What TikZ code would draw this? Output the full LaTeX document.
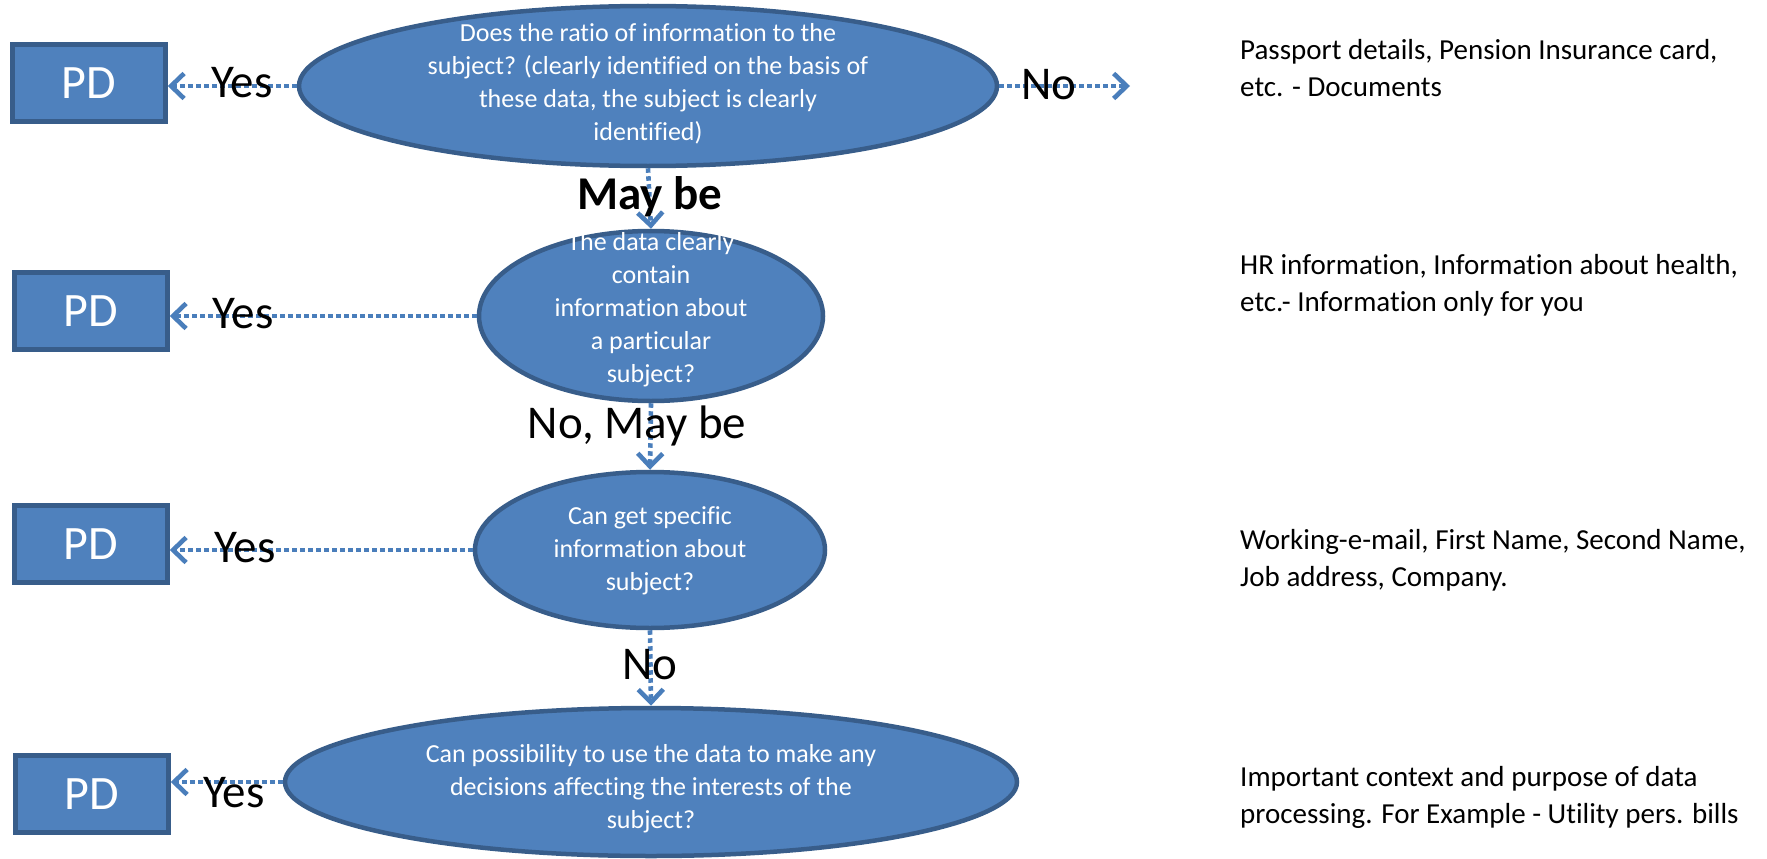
\documentclass[tikz,border=0pt]{standalone}
\usepackage{fontspec}
\setmainfont{Carlito}[Ligatures=NoCommon]
\usetikzlibrary{arrows.meta,shapes.geometric}
\definecolor{nodefill}{HTML}{4F81BD}
\definecolor{nodeline}{HTML}{385D8A}
\definecolor{flow}{HTML}{4A7EBB}
\begin{document}
\begin{tikzpicture}[x=1pt,y=-1pt,
  pdbox/.style={draw=nodeline,fill=nodefill,line width=4.5pt,minimum width=153pt,
    minimum height=77pt,inner sep=0pt,text=white,font=\fontsize{48}{52}\selectfont},
  question/.style={ellipse,draw=nodeline,fill=nodefill,line width=4.5pt,inner sep=0pt},
  qtext/.style={text=white,align=center,inner sep=0pt,font=\fontsize{26}{33}\selectfont},
  answer/.style={inner sep=0pt,font=\fontsize{47}{52}\selectfont},
  note/.style={align=left,anchor=west,inner sep=0pt,font=\fontsize{29}{37}\selectfont},
  flowline/.style={draw=flow,line width=4.6pt,dash pattern=on 4.5pt off 3.5pt,
    -{Straight Barb[length=13pt,width=25pt]}}
]
\useasboundingbox (0,0) rectangle (1767,859);

% question ellipses
\node[question,minimum width=698pt,minimum height=160pt] (e1) at (648,86) {};
\node[question,minimum width=344pt,minimum height=170pt] (e2) at (651,316) {};
\node[question,minimum width=350pt,minimum height=156pt] (e3) at (650,550) {};
\node[question,minimum width=732pt,minimum height=148pt] (e4) at (651,782) {};

\node[qtext] (t1) at (648,84) {Does the ratio of information to the\\subject? (clearly identified on the basis of\\these data, the subject is clearly\\identified)};
\node[qtext] (t2) at (651,310) {The data clearly\\contain\\information about\\a particular\\subject?};
\node[qtext] (t3) at (650,551) {Can get specific\\information about\\subject?};
\node[qtext] (t4) at (651,789) {Can possibility to use the data to make any\\decisions affecting the interests of the\\subject?};

% outcome boxes
\node[pdbox] (pd1) at (89,83) {PD};
\node[pdbox] (pd2) at (91,311) {PD};
\node[pdbox] (pd3) at (91,544) {PD};
\node[pdbox] (pd4) at (92,794) {PD};

\coordinate (noend) at (1130,86);

% connectors
\draw[flowline] (e1.west) -- (e1.west -| pd1.east);
\draw[flowline] (e1.east) -- (noend);
\draw[flowline] (e1.south) -- (e2.north);
\draw[flowline] (e2.west) -- (e2.west -| pd2.east);
\draw[flowline] (e2.south) -- (e3.north);
\draw[flowline] (e3.west) -- (e3.west -| pd3.east);
\draw[flowline] (e3.south) -- (e4.north);
\draw[flowline] (e4.west) -- (e4.west -| pd4.east);

% answer labels
\node[answer] (y1) at (242,83) {Yes};
\node[answer] (y2) at (243,314) {Yes};
\node[answer] (y3) at (245,548) {Yes};
\node[answer] (y4) at (234,793) {Yes};
\node[answer] (n1) at (1049,85) {No};
\node[answer,font=\fontsize{47}{52}\selectfont\bfseries] (m1) at (650,197) {May be};
\node[answer] (m2) at (637,426) {No, May be};
\node[answer] (n3) at (650,665) {No};

% examples
\node[note] (x1) at (1240,68) {Passport details, Pension Insurance card,\\etc. - Documents};
\node[note] (x2) at (1240,285) {HR information, Information about health,\\etc.- Information only for you};
\node[note] (x3) at (1240,560) {Working-e-mail, First Name, Second Name,\\Job address, Company.};
\node[note] (x4) at (1240,797) {Important context and purpose of data\\processing. For Example - Utility pers. bills};
\end{tikzpicture}
\end{document}
